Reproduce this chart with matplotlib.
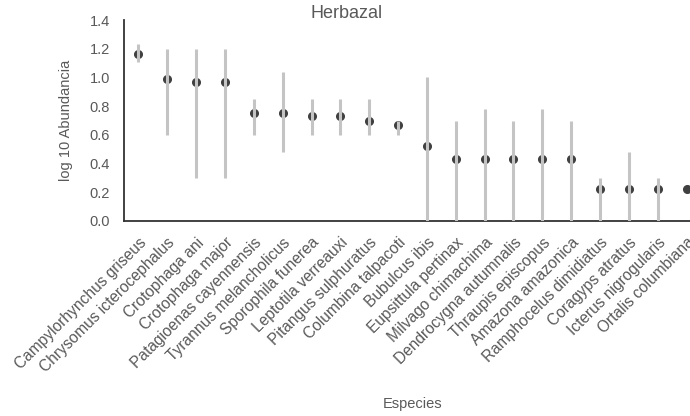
import matplotlib.pyplot as plt

plt.rcParams['font.family'] = ['Liberation Sans', 'DejaVu Sans']

especies = ['Campylorhynchus griseus', 'Chrysomus icterocephalus', 'Crotophaga ani',
            'Crotophaga major', 'Patagioenas cayennensis', 'Tyrannus melancholicus',
            'Sporophila funerea', 'Leptotila verreauxi', 'Pitangus sulphuratus',
            'Columbina talpacoti', 'Bubulcus ibis', 'Eupsittula pertinax',
            'Milvago chimachima', 'Dendrocygna autumnalis', 'Thraupis episcopus',
            'Amazona amazonica', 'Ramphocelus dimidiatus', 'Coragyps atratus',
            'Icterus nigrogularis', 'Ortalis columbiana']
media = [1.16, 0.99, 0.97, 0.97, 0.75, 0.75, 0.73, 0.73, 0.70, 0.67,
         0.52, 0.43, 0.43, 0.43, 0.43, 0.43, 0.22, 0.22, 0.22, 0.22]
minimo = [1.11, 0.60, 0.30, 0.30, 0.60, 0.48, 0.60, 0.60, 0.60, 0.60,
          0.0, 0.0, 0.0, 0.0, 0.0, 0.0, 0.0, 0.0, 0.0, 0.22]
maximo = [1.23, 1.20, 1.20, 1.20, 0.85, 1.04, 0.85, 0.85, 0.85, 0.70,
          1.00, 0.70, 0.78, 0.70, 0.78, 0.70, 0.30, 0.48, 0.30, 0.22]
yticks = [0.0, 0.2, 0.4, 0.6, 0.8, 1.0, 1.2, 1.4]

gris = '#595959'

fig = plt.figure(figsize=(6.9, 4.16), dpi=100)
ax = fig.add_axes([124 / 690, 1 - 221 / 416, 566 / 690, 201 / 416])

x = list(range(len(especies)))
ax.plot(x, media, 'o', color='#404040', markersize=5.5, zorder=2, clip_on=False)
ax.vlines(x, minimo, maximo, color='#c4c4c4', linewidth=2.2, zorder=3)

ax.set_xlim(-0.5, 19.12)
ax.set_ylim(0, 1.4)
ax.set_yticks(yticks)
ax.set_yticklabels([f'{v:.1f}' for v in yticks])
ax.set_xticks(x)
ax.set_xticklabels(especies, rotation=45, ha='right', rotation_mode='anchor')

ax.tick_params(axis='y', length=0, labelsize=10.5, colors=gris, pad=10)
ax.tick_params(axis='x', length=0, labelsize=11.2, colors=gris, pad=10)

for s in ['top', 'right']:
    ax.spines[s].set_visible(False)
for s in ['left', 'bottom']:
    ax.spines[s].set_color('#333333')
    ax.spines[s].set_linewidth(1.3)

ax.set_ylabel('log 10 Abundancia', fontsize=10.5, color=gris, labelpad=12)
fig.text(413 / 690, 1 - 404 / 416, 'Especies', fontsize=10.5, color=gris,
         ha='center', va='center')
fig.text(347 / 690, 1 - 13 / 416, 'Herbazal', fontsize=13, color=gris,
         ha='center', va='center')

fig.savefig('out.png', dpi=100)
